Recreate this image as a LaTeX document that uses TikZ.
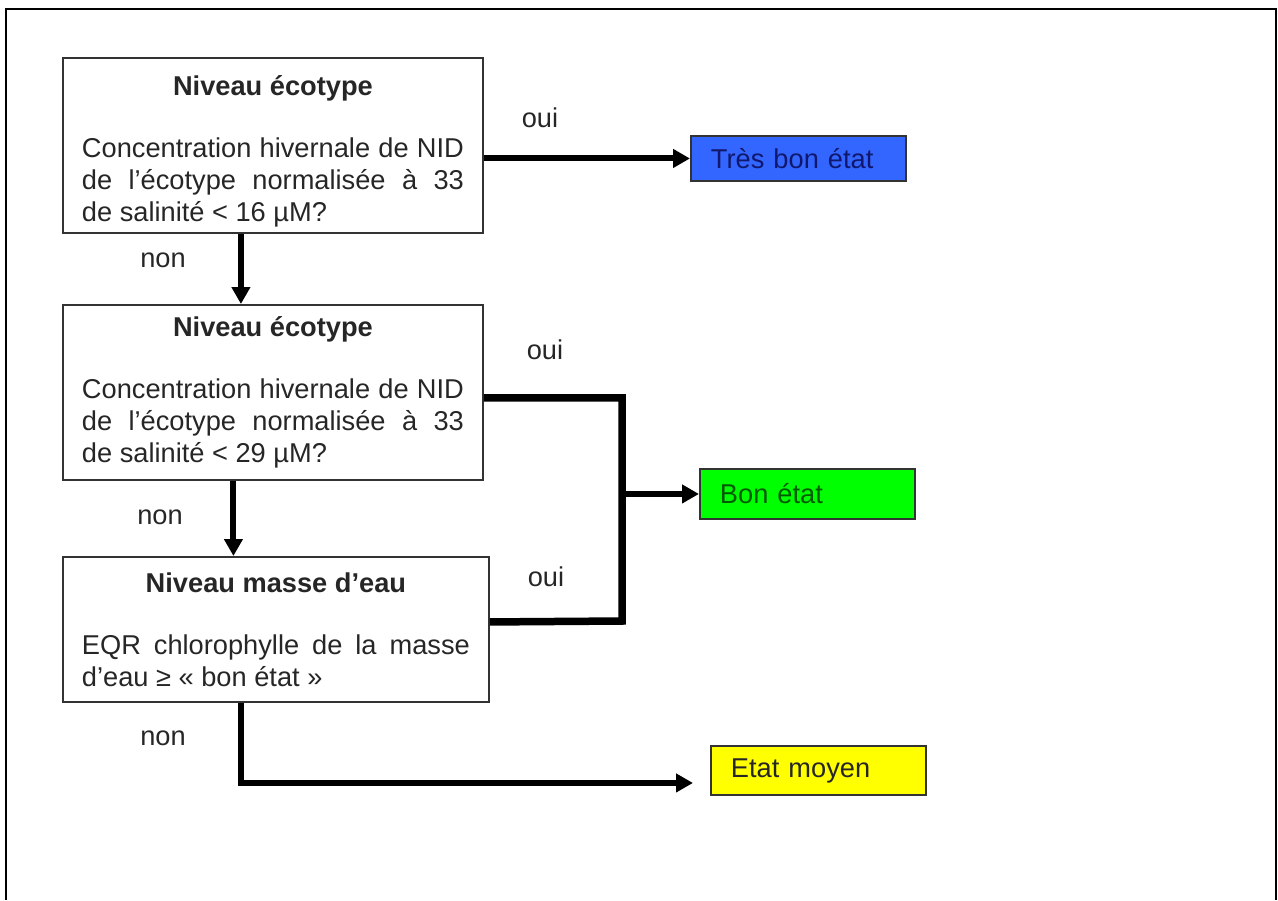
\documentclass[tikz,border=0pt]{standalone}
\usepackage{fontspec}
\setmainfont{Liberation Sans}
\usetikzlibrary{arrows.meta,calc}

\definecolor{bleuTB}{RGB}{51,102,255}
\definecolor{bleuTxt}{RGB}{16,24,110}
\definecolor{vertB}{RGB}{0,255,0}
\definecolor{vertTxt}{RGB}{0,90,0}
\definecolor{jauneM}{RGB}{255,255,0}

\begin{document}
\begin{tikzpicture}[x=0.02cm, y=-0.02cm, line join=miter,
    >={Triangle[length=0.34cm,width=0.36cm]},
    txt/.style={font=\fontsize{15.5}{18.2}\selectfont, text=black!85},
    question/.style={txt, draw=black!80, line width=1.1pt, anchor=north west,
      text width=7.64cm, inner xsep=0.38cm, align=justify},
    etat/.style={txt, draw=black!80, line width=1.1pt, anchor=north west,
      minimum width=4.3cm, text width=3.5cm, inner xsep=0.4cm, align=left},
    fleche/.style={->, line width=0.12cm},
    jonct/.style={line width=0.15cm}]
    \useasboundingbox (0,0) rectangle (1278,900);

    % cadre
    \draw[line width=0.04cm] (6,900) -- (6,9) -- (1276,9) -- (1276,900);

    % les trois questions
    \node[question, minimum height=3.5cm] (q1) at (62,57)
      {{\centering\bfseries Niveau écotype\par}\vspace{17pt}\noindent
       Concentration hivernale de NID\linebreak de l’écotype normalisée à 33\linebreak de salinité < 16 µM?\par
       \vspace{-0.22cm}};
    \node[question, minimum height=3.5cm] (q2) at (62,304)
      {{\centering\bfseries Niveau écotype\par}\vspace{17pt}\noindent
       Concentration hivernale de NID\linebreak de l’écotype normalisée à 33\linebreak de salinité < 29 µM?};
    \node[question, text width=7.76cm, minimum height=2.9cm] (q3) at (62,556)
      {{\centering\bfseries Niveau masse d’eau\par}\vspace{17pt}\noindent
       EQR chlorophylle de la masse\linebreak d’eau ≥ « bon état »};

    % les etats
    \node[etat, fill=bleuTB, text=bleuTxt, minimum height=0.9cm] (tbe) at (690,135) {Très bon état};
    \node[etat, fill=vertB, text=vertTxt, minimum height=1.0cm] (bon) at (699,468) {Bon état};
    \node[etat, fill=jauneM, minimum height=0.98cm] (moyen) at (710,745) {Etat moyen};

    % fleches
    \draw[fleche] (q1.east |- tbe.west) -- (tbe.west);
    \coordinate (d1) at ([xshift=-0.64cm]q1.south);
    \draw[fleche] (d1) -- (d1 |- q2.north);
    \coordinate (d2) at ([xshift=-0.79cm]q2.south);
    \draw[fleche] (d2) -- (d2 |- q3.north);
    \coordinate (jonction) at (622,621);
    \draw[jonct] ([yshift=-0.11cm]q2.east) -| (jonction) -- ([yshift=0.15cm]q3.east);
    \draw[fleche] (jonction |- bon.west) -- (bon.west);
    \coordinate (d3) at ([xshift=-0.7cm]q3.south);
    \draw[fleche] (d3) |- ([xshift=-0.34cm,yshift=-0.25cm]moyen.west);

    % oui / non
    \node[txt] (oui1) at (540,118) {oui};
    \node[txt] (oui2) at (545,350) {oui};
    \node[txt] (oui3) at (546,577) {oui};
    \node[txt] (non1) at (163,260) {non};
    \node[txt] (non2) at (160,517) {non};
    \node[txt] (non3) at (163,738) {non};
\end{tikzpicture}
\end{document}
